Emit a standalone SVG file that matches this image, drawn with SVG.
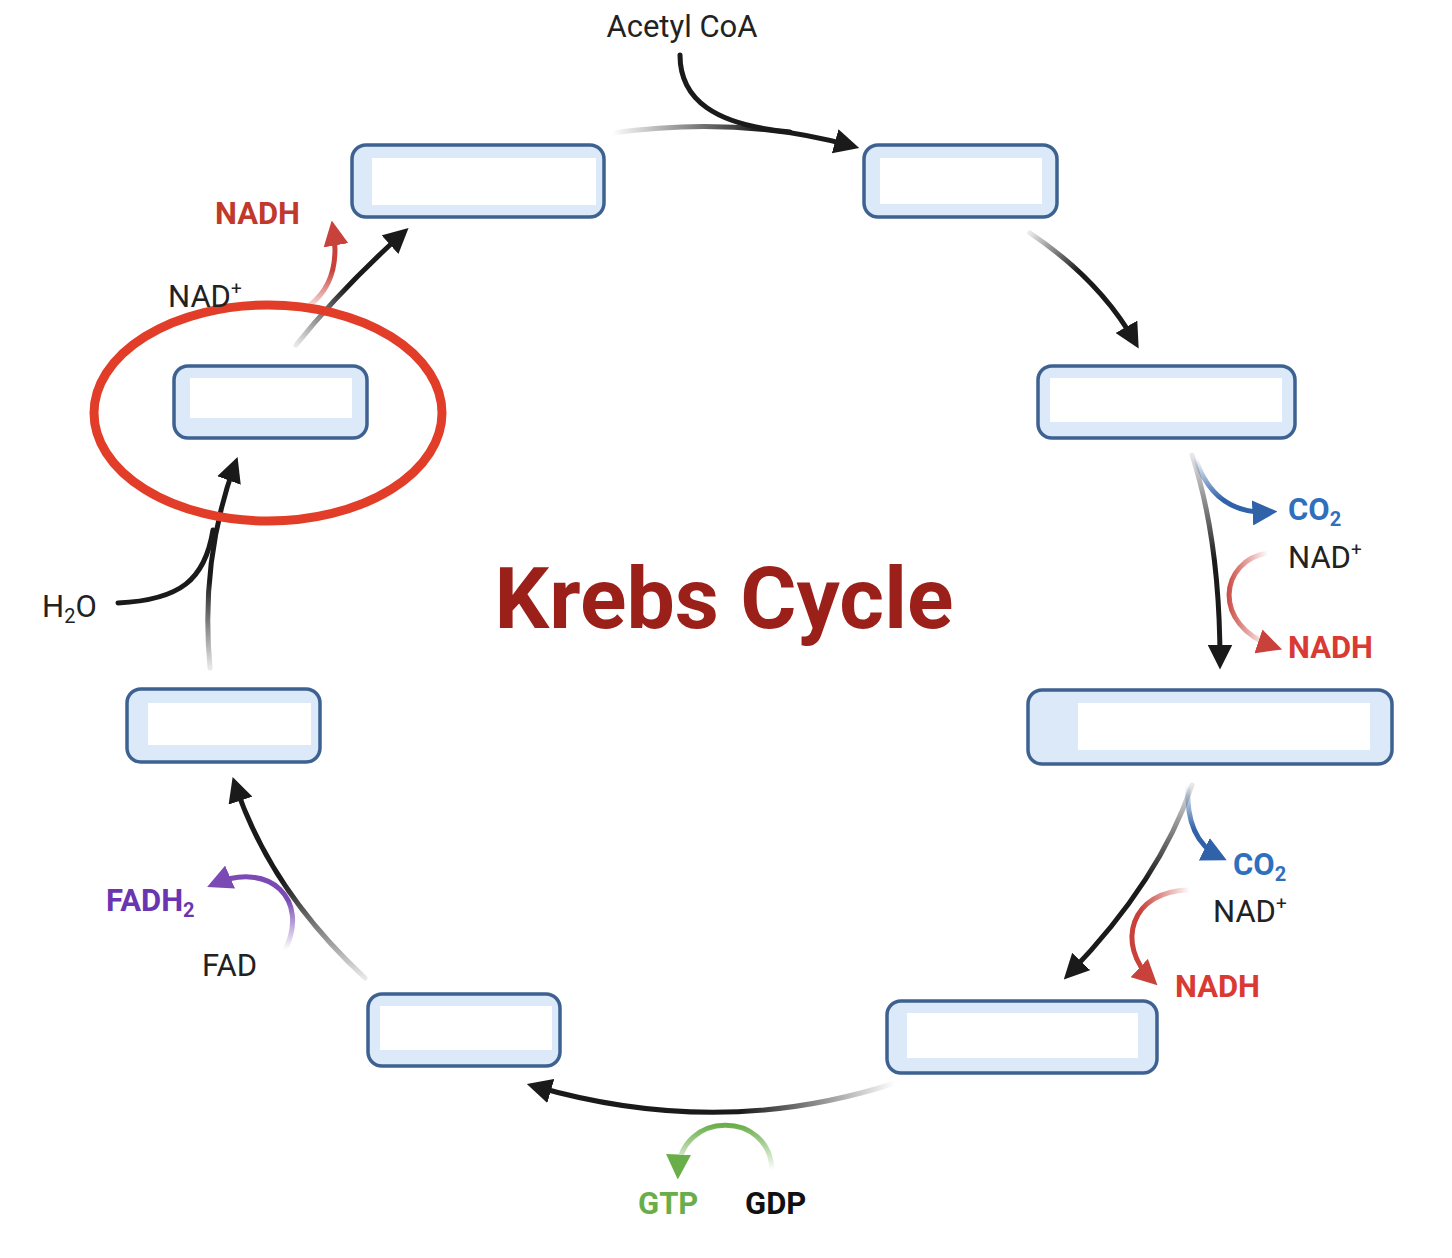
<svg xmlns="http://www.w3.org/2000/svg" width="1452" height="1258" viewBox="0 0 1452 1258">
<style>
.box{fill:#dce9f8;stroke:#3d6291;stroke-width:3.5}
.in{fill:#fff}
.k{fill:none;stroke-width:5;stroke-linecap:round}
.t{font-family:Roboto,"Liberation Sans",sans-serif;font-size:31px}
.b{font-weight:bold}
</style>
<defs>
<marker id="mk" viewBox="0 0 10 10" refX="7" refY="5" markerWidth="5" markerHeight="5" orient="auto" markerUnits="strokeWidth"><path d="M0,0L10,5L0,10z" fill="#1a1a1a"/></marker>
<marker id="mb" viewBox="0 0 10 10" refX="7" refY="5" markerWidth="5" markerHeight="5" orient="auto" markerUnits="strokeWidth"><path d="M0,0L10,5L0,10z" fill="#2f62a8"/></marker>
<marker id="mr" viewBox="0 0 10 10" refX="7" refY="5" markerWidth="5" markerHeight="5" orient="auto" markerUnits="strokeWidth"><path d="M0,0L10,5L0,10z" fill="#c8413a"/></marker>
<marker id="mp" viewBox="0 0 10 10" refX="7" refY="5" markerWidth="5" markerHeight="5" orient="auto" markerUnits="strokeWidth"><path d="M0,0L10,5L0,10z" fill="#7b4ab5"/></marker>
<marker id="mg" viewBox="0 0 10 10" refX="7" refY="5" markerWidth="5" markerHeight="5" orient="auto" markerUnits="strokeWidth"><path d="M0,0L10,5L0,10z" fill="#6aae4a"/></marker>
<linearGradient id="gA" gradientUnits="userSpaceOnUse" x1="612" y1="133" x2="760" y2="130"><stop offset="0" stop-color="#1a1a1a" stop-opacity="0"/><stop offset="1" stop-color="#1a1a1a"/></linearGradient>
<linearGradient id="gB" gradientUnits="userSpaceOnUse" x1="1030" y1="233" x2="1080" y2="270"><stop offset="0" stop-color="#1a1a1a" stop-opacity="0.1"/><stop offset="1" stop-color="#1a1a1a"/></linearGradient>
<linearGradient id="gC" gradientUnits="userSpaceOnUse" x1="0" y1="455" x2="0" y2="560"><stop offset="0" stop-color="#1a1a1a" stop-opacity="0.1"/><stop offset="1" stop-color="#1a1a1a"/></linearGradient>
<linearGradient id="gD" gradientUnits="userSpaceOnUse" x1="0" y1="785" x2="0" y2="880"><stop offset="0" stop-color="#1a1a1a" stop-opacity="0.1"/><stop offset="1" stop-color="#1a1a1a"/></linearGradient>
<linearGradient id="gE" gradientUnits="userSpaceOnUse" x1="895" y1="0" x2="740" y2="0"><stop offset="0" stop-color="#1a1a1a" stop-opacity="0"/><stop offset="1" stop-color="#1a1a1a"/></linearGradient>
<linearGradient id="gF" gradientUnits="userSpaceOnUse" x1="0" y1="978" x2="0" y2="880"><stop offset="0" stop-color="#1a1a1a" stop-opacity="0.1"/><stop offset="1" stop-color="#1a1a1a"/></linearGradient>
<linearGradient id="gG" gradientUnits="userSpaceOnUse" x1="0" y1="668" x2="0" y2="580"><stop offset="0" stop-color="#1a1a1a" stop-opacity="0.1"/><stop offset="1" stop-color="#1a1a1a"/></linearGradient>
<linearGradient id="gH" gradientUnits="userSpaceOnUse" x1="296" y1="345" x2="350" y2="290"><stop offset="0" stop-color="#1a1a1a" stop-opacity="0.1"/><stop offset="1" stop-color="#1a1a1a"/></linearGradient>
<linearGradient id="gb1" gradientUnits="userSpaceOnUse" x1="0" y1="458" x2="0" y2="500"><stop offset="0" stop-color="#2f62a8" stop-opacity="0"/><stop offset="1" stop-color="#2f62a8"/></linearGradient>
<linearGradient id="gb2" gradientUnits="userSpaceOnUse" x1="0" y1="785" x2="0" y2="830"><stop offset="0" stop-color="#2f62a8" stop-opacity="0"/><stop offset="1" stop-color="#2f62a8"/></linearGradient>
<linearGradient id="gr1" gradientUnits="userSpaceOnUse" x1="1268" y1="0" x2="1225" y2="0"><stop offset="0" stop-color="#c8413a" stop-opacity="0"/><stop offset="1" stop-color="#c8413a"/></linearGradient>
<linearGradient id="gr2" gradientUnits="userSpaceOnUse" x1="1190" y1="0" x2="1140" y2="0"><stop offset="0" stop-color="#c8413a" stop-opacity="0"/><stop offset="1" stop-color="#c8413a"/></linearGradient>
<linearGradient id="gr3" gradientUnits="userSpaceOnUse" x1="0" y1="305" x2="0" y2="270"><stop offset="0" stop-color="#c8413a" stop-opacity="0.2"/><stop offset="1" stop-color="#c8413a"/></linearGradient>
<linearGradient id="gp" gradientUnits="userSpaceOnUse" x1="0" y1="950" x2="0" y2="900"><stop offset="0" stop-color="#7b4ab5" stop-opacity="0"/><stop offset="1" stop-color="#7b4ab5"/></linearGradient>
<linearGradient id="gg" gradientUnits="userSpaceOnUse" x1="0" y1="1170" x2="0" y2="1125"><stop offset="0" stop-color="#6aae4a" stop-opacity="0"/><stop offset="1" stop-color="#6aae4a"/></linearGradient>
</defs>
<rect width="1452" height="1258" fill="#fff"/>
<g id="box1"><rect class="box" x="352" y="145" width="252" height="72" rx="14"/><rect class="in" x="372" y="158" width="224" height="47"/></g>
<g id="box2"><rect class="box" x="864" y="145" width="193" height="72" rx="14"/><rect class="in" x="880" y="158" width="162" height="46"/></g>
<g id="box3"><rect class="box" x="1038" y="366" width="257" height="72" rx="14"/><rect class="in" x="1050" y="378" width="232" height="44"/></g>
<g id="box4"><rect class="box" x="1028" y="690" width="364" height="74" rx="14"/><rect class="in" x="1078" y="703" width="292" height="47"/></g>
<g id="box5"><rect class="box" x="887" y="1001" width="270" height="72" rx="14"/><rect class="in" x="907" y="1013" width="231" height="45"/></g>
<g id="box6"><rect class="box" x="368" y="994" width="192" height="72" rx="14"/><rect class="in" x="380" y="1006" width="172" height="44"/></g>
<g id="box7"><rect class="box" x="127" y="689" width="193" height="73" rx="14"/><rect class="in" x="148" y="703" width="163" height="42"/></g>
<g id="box8"><rect class="box" x="174" y="366" width="193" height="72" rx="14"/><rect class="in" x="190" y="378" width="162" height="40"/></g>
<g id="connectors">
<path class="k" stroke="url(#gA)" d="M612,133 Q740,115 852,146" marker-end="url(#mk)"/>
<path class="k" stroke="#1a1a1a" d="M680,55 C680,100 715,125 790,132"/>
<path class="k" stroke="url(#gB)" d="M1030,233 Q1100,280 1135,342" marker-end="url(#mk)"/>
<path class="k" stroke="url(#gC)" d="M1192,455 Q1220,540 1220,662" marker-end="url(#mk)"/>
<path class="k" stroke="url(#gb1)" d="M1196,460 Q1215,515 1270,512" marker-end="url(#mb)"/>
<path class="k" stroke="url(#gr1)" d="M1268,553 C1220,560 1210,625 1275,647" marker-end="url(#mr)"/>
<path class="k" stroke="url(#gD)" d="M1192,785 Q1160,880 1069,974" marker-end="url(#mk)"/>
<path class="k" stroke="url(#gb2)" d="M1188,785 Q1185,840 1220,857" marker-end="url(#mb)"/>
<path class="k" stroke="url(#gr2)" d="M1190,890 C1130,890 1115,945 1152,980" marker-end="url(#mr)"/>
<path class="k" stroke="url(#gE)" d="M895,1083 Q720,1140 534,1086" marker-end="url(#mk)"/>
<path class="k" stroke="url(#gg)" d="M772,1170 C770,1110 680,1110 678,1172" marker-end="url(#mg)"/>
<path class="k" stroke="url(#gF)" d="M365,978 Q270,890 235,784" marker-end="url(#mk)"/>
<path class="k" stroke="url(#gp)" d="M285,950 C310,900 270,860 214,884" marker-end="url(#mp)"/>
<path class="k" stroke="url(#gG)" d="M210,668 Q200,560 235,464" marker-end="url(#mk)"/>
<path class="k" stroke="#1a1a1a" d="M118,603 C180,600 205,580 213,530"/>
<path class="k" stroke="url(#gH)" d="M296,345 Q340,290 403,233" marker-end="url(#mk)"/>
<path class="k" stroke="url(#gr3)" d="M310,305 Q342,280 333,228" marker-end="url(#mr)"/>
</g>
<ellipse cx="268" cy="413" rx="174" ry="108" fill="none" stroke="#e23d28" stroke-width="9"/>
<text class="t" x="682" y="37" text-anchor="middle" fill="#222">Acetyl CoA</text>
<text class="t b" x="215" y="224" fill="#c0392b">NADH</text>
<text class="t" x="168" y="307" fill="#222">NAD<tspan font-size="19" dy="-12">+</tspan></text>
<text class="t" x="42" y="617" fill="#222">H<tspan font-size="20" dy="6">2</tspan><tspan dy="-6">O</tspan></text>
<text class="t b" x="1288" y="520" fill="#2f6fbd">CO<tspan font-size="20" dy="6">2</tspan></text>
<text class="t" x="1288" y="568" fill="#222">NAD<tspan font-size="19" dy="-12">+</tspan></text>
<text class="t b" x="1288" y="658" fill="#d93a33">NADH</text>
<text class="t b" x="1233" y="875" fill="#2f6fbd">CO<tspan font-size="20" dy="6">2</tspan></text>
<text class="t" x="1213" y="922" fill="#222">NAD<tspan font-size="19" dy="-12">+</tspan></text>
<text class="t b" x="1175" y="997" fill="#d93a33">NADH</text>
<text class="t b" x="106" y="911" fill="#6a35b0">FADH<tspan font-size="20" dy="6">2</tspan></text>
<text class="t" x="202" y="976" fill="#222">FAD</text>
<text class="t b" x="638" y="1214" fill="#6aae4a">GTP</text>
<text class="t b" x="745" y="1214" fill="#111">GDP</text>
<text x="724" y="628" text-anchor="middle" font-family="Roboto,'Liberation Sans',sans-serif" font-weight="bold" font-size="86" fill="#9b2019">Krebs Cycle</text>
</svg>
